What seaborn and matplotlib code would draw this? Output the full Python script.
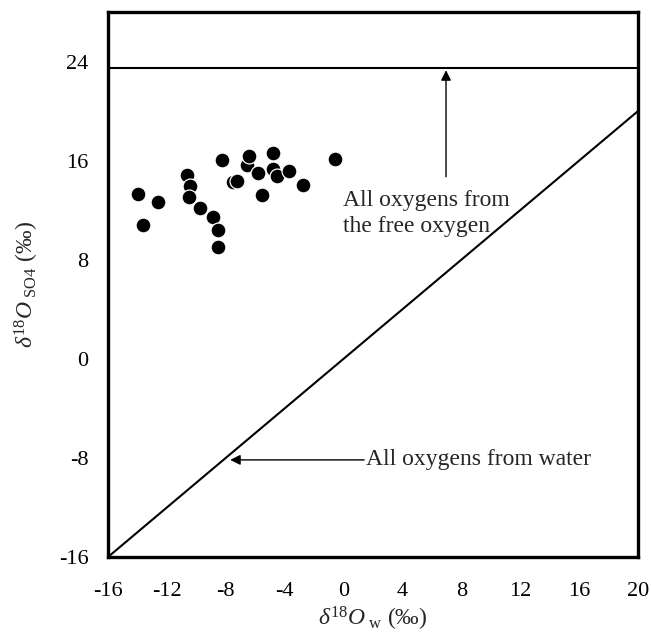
import matplotlib
matplotlib.use("Agg")
import matplotlib.pyplot as plt
import seaborn as sns
import pandas as pd

x_w = [-13.98, -12.62, -13.60, -10.65, -10.43, -10.48, -9.75, -8.85, -8.51, -8.51,
       -8.26, -7.53, -7.26, -6.58, -6.40, -5.79, -5.56, -4.77, -4.81, -4.54,
       -3.68, -2.73, -0.58]
y_so4 = [13.33, 12.66, 10.83, 14.87, 13.93, 13.04, 12.18, 11.45, 10.42, 9.00,
         16.06, 14.28, 14.34, 15.68, 16.36, 15.00, 13.25, 16.62, 15.35, 14.74,
         15.19, 14.01, 16.16]
free_oxygen = 23.5
water_line_x = [-16, 20]
water_line_y = [-16, 20]
xticks = [-16, -12, -8, -4, 0, 4, 8, 12, 16, 20]
yticks = [-16, -8, 0, 8, 16, 24]

sns.set_style("white")
plt.rcParams['font.family'] = ['Liberation Serif', 'DejaVu Serif']
plt.rcParams['mathtext.fontset'] = 'custom'
plt.rcParams['mathtext.rm'] = 'Liberation Serif'
plt.rcParams['mathtext.it'] = 'Liberation Serif:italic'
plt.rcParams['mathtext.bf'] = 'Liberation Serif:bold'
plt.rcParams['axes.unicode_minus'] = False

fig = plt.figure(figsize=(6.51, 6.44), dpi=100)
ax = fig.add_axes([108/651, 1-557/644, 530/651, 545/644])

df = pd.DataFrame({"x": x_w, "y": y_so4})
sns.scatterplot(data=df, x="x", y="y", ax=ax, color="black", s=115,
                edgecolor="white", linewidth=0.9, zorder=3)
sns.lineplot(x=water_line_x, y=water_line_y, ax=ax, color="black", lw=1.5)
ax.axhline(free_oxygen, color="black", lw=1.5)

ax.set_xlim(-16, 20)
ax.set_ylim(-16, 28)
ax.set_xticks(xticks)
ax.set_yticks(yticks)
ax.tick_params(direction="in", length=5, width=1, labelsize=16,
               colors="black")
ax.tick_params(axis="x", pad=18)
ax.tick_params(axis="y", pad=14)
for s in ax.spines.values():
    s.set_linewidth(2.4)
    s.set_color("black")

ax.set_xlabel(r"$\delta^{\mathit{18}}O_{\mathrm{\ w}}$ (‰)", fontsize=17, labelpad=3)
ax.set_ylabel(r"$\delta^{\mathit{18}}O_{\mathrm{\ SO4}}$ (‰)", fontsize=17, labelpad=13)

ax.annotate("", xy=(6.96, 23.3), xytext=(6.96, 14.7),
            arrowprops=dict(arrowstyle="-|>", color="black", lw=1,
                            mutation_scale=15, shrinkA=0, shrinkB=0))
ax.text(-0.05, 11.7, "All oxygens from\nthe free oxygen", fontsize=17,
        ha="left", va="center", linespacing=1.3)

ax.annotate("", xy=(-7.7, -8.16), xytext=(1.4, -8.16),
            arrowprops=dict(arrowstyle="-|>", color="black", lw=1,
                            mutation_scale=15, shrinkA=0, shrinkB=0))
ax.text(1.55, -8.16, "All oxygens from water", fontsize=17,
        ha="left", va="center")

fig.savefig("out.png", dpi=100)
